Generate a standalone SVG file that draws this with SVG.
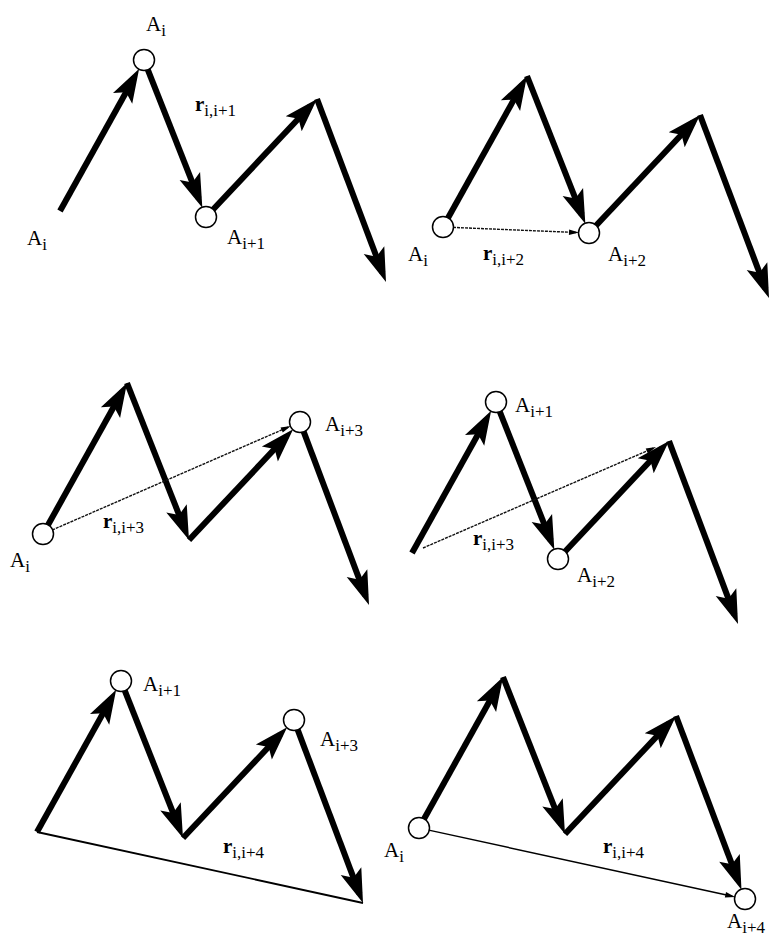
<svg xmlns="http://www.w3.org/2000/svg" width="779" height="939" viewBox="0 0 779 939">
<style>
.thick{stroke:#000;stroke-width:6;fill:none;marker-end:url(#ah)}
.thin{stroke:#111;stroke-width:1.4;fill:none;stroke-dasharray:3 1;marker-end:url(#ta)}
.solid{stroke:#000;stroke-width:1.8;fill:none}
.node{fill:#fff;stroke:#000;stroke-width:1.5}
.lbl{font-family:"Liberation Serif","Times New Roman",serif;font-size:21px;fill:#000}
.sub{font-size:17px}
.r{font-weight:bold}
</style>
<defs>
<marker id="ah" viewBox="-26 -13 38 26" refX="0" refY="0" markerWidth="38" markerHeight="26" markerUnits="userSpaceOnUse" orient="auto">
<path d="M10,0 L-24,-11 L-17,0 L-24,11 Z" fill="#000"/>
</marker>
<marker id="ta" viewBox="-8 -4 12 8" refX="0" refY="0" markerWidth="12" markerHeight="8" markerUnits="userSpaceOnUse" orient="auto">
<path d="M3,0 L-7,-2.8 L-7,2.8 Z" fill="#000"/>
</marker>
</defs>
<rect width="779" height="939" fill="#fff"/>

<!-- Panel 1 -->
<g id="panel1">
<g id="p1-connectors" transform="translate(60,211)">
<line class="thick" x1="0" y1="0" x2="74.28" y2="-133.52"/>
<line class="thick" x1="87.67" y1="-141.7" x2="138.66" y2="-12.6"/>
<line class="thick" x1="152.85" y1="-1.28" x2="250.15" y2="-104.72"/>
<line class="thick" x1="257" y1="-112" x2="322.47" y2="61.64"/>
</g>
<g id="p1-start"><text class="lbl" x="27" y="245">A<tspan class="sub" dy="5">i</tspan></text></g>
<g id="p1-Ai"><circle class="node" cx="144" cy="60" r="10.5"/><text class="lbl" x="146" y="31">A<tspan class="sub" dy="5">i</tspan></text></g>
<g id="p1-Ai1"><circle class="node" cx="206" cy="217" r="10.5"/><text class="lbl" x="227" y="244">A<tspan class="sub" dy="5">i+1</tspan></text></g>
<g id="p1-r"><text class="lbl" x="195" y="111"><tspan class="r">r</tspan><tspan class="sub" dy="5">i,i+1</tspan></text></g>
</g>

<!-- Panel 2 -->
<g id="panel2">
<g id="p2-connectors" transform="translate(443,227)">
<line class="thick" x1="4.86" y1="-8.74" x2="79.14" y2="-142.26"/>
<line class="thick" x1="84" y1="-151" x2="138.66" y2="-12.6"/>
<line class="thick" x1="152.85" y1="-1.28" x2="250.15" y2="-104.72"/>
<line class="thick" x1="257" y1="-112" x2="322.47" y2="61.64"/>
<line class="thin" x1="10" y1="0.4" x2="133" y2="5.48"/>
</g>
<g id="p2-Ai"><circle class="node" cx="443" cy="227" r="10.5"/><text class="lbl" x="408" y="261">A<tspan class="sub" dy="5">i</tspan></text></g>
<g id="p2-Ai2"><circle class="node" cx="589" cy="233" r="10.5"/><text class="lbl" x="608" y="261">A<tspan class="sub" dy="5">i+2</tspan></text></g>
<g id="p2-r"><text class="lbl" x="483" y="260"><tspan class="r">r</tspan><tspan class="sub" dy="5">i,i+2</tspan></text></g>
</g>

<!-- Panel 3 -->
<g id="panel3">
<g id="p3-connectors" transform="translate(43,534)">
<line class="thick" x1="4.86" y1="-8.74" x2="79.14" y2="-142.26"/>
<line class="thick" x1="84" y1="-151" x2="142.33" y2="-3.3"/>
<line class="thick" x1="146" y1="6" x2="243.3" y2="-97.44"/>
<line class="thick" x1="260.53" y1="-102.64" x2="322.47" y2="61.64"/>
<line class="thin" x1="9.17" y1="-4" x2="245.08" y2="-106.8"/>
</g>
<g id="p3-Ai"><circle class="node" cx="43" cy="534" r="10.5"/><text class="lbl" x="10" y="567">A<tspan class="sub" dy="5">i</tspan></text></g>
<g id="p3-Ai3"><circle class="node" cx="300" cy="422" r="10.5"/><text class="lbl" x="325" y="431">A<tspan class="sub" dy="5">i+3</tspan></text></g>
<g id="p3-r"><text class="lbl" x="103" y="528"><tspan class="r">r</tspan><tspan class="sub" dy="5">i,i+3</tspan></text></g>
</g>

<!-- Panel 4 -->
<g id="panel4">
<g id="p4-connectors" transform="translate(412,553)">
<line class="thick" x1="0" y1="0" x2="74.28" y2="-133.52"/>
<line class="thick" x1="87.67" y1="-141.7" x2="138.66" y2="-12.6"/>
<line class="thick" x1="152.85" y1="-1.28" x2="250.15" y2="-104.72"/>
<line class="thick" x1="257" y1="-112" x2="322.47" y2="61.64"/>
<line class="thin" x1="11" y1="-5" x2="241.25" y2="-104.8"/>
</g>
<g id="p4-Ai1"><circle class="node" cx="496" cy="402" r="10.5"/><text class="lbl" x="515" y="412">A<tspan class="sub" dy="5">i+1</tspan></text></g>
<g id="p4-Ai2"><circle class="node" cx="558" cy="559" r="10.5"/><text class="lbl" x="577" y="582">A<tspan class="sub" dy="5">i+2</tspan></text></g>
<g id="p4-r"><text class="lbl" x="473" y="545"><tspan class="r">r</tspan><tspan class="sub" dy="5">i,i+3</tspan></text></g>
</g>

<!-- Panel 5 -->
<g id="panel5">
<g id="p5-connectors" transform="translate(37,832)">
<line class="solid" x1="0" y1="0" x2="326" y2="71"/>
<line class="thick" x1="0" y1="0" x2="74.28" y2="-133.52"/>
<line class="thick" x1="87.67" y1="-141.7" x2="142.33" y2="-3.3"/>
<line class="thick" x1="146" y1="6" x2="243.3" y2="-97.44"/>
<line class="thick" x1="260.53" y1="-102.64" x2="322.47" y2="61.64"/>
</g>
<g id="p5-Ai1"><circle class="node" cx="121" cy="681" r="10.5"/><text class="lbl" x="143" y="691">A<tspan class="sub" dy="5">i+1</tspan></text></g>
<g id="p5-Ai3"><circle class="node" cx="294" cy="720" r="10.5"/><text class="lbl" x="320" y="746">A<tspan class="sub" dy="5">i+3</tspan></text></g>
<g id="p5-r"><text class="lbl" x="223" y="853"><tspan class="r">r</tspan><tspan class="sub" dy="5">i,i+4</tspan></text></g>
</g>

<!-- Panel 6 -->
<g id="panel6">
<g id="p6-connectors" transform="translate(419,828)">
<line class="thick" x1="4.86" y1="-8.74" x2="79.14" y2="-142.26"/>
<line class="thick" x1="84" y1="-151" x2="142.33" y2="-3.3"/>
<line class="thick" x1="146" y1="6" x2="250.15" y2="-104.72"/>
<line class="thick" x1="257" y1="-112" x2="318.94" y2="52.28"/>
<line class="solid" x1="9.77" y1="2.13" x2="313.27" y2="68.26" style="marker-end:url(#ta);stroke-width:1.5"/>
</g>
<g id="p6-Ai"><circle class="node" cx="419" cy="828" r="10.5"/><text class="lbl" x="384" y="857">A<tspan class="sub" dy="5">i</tspan></text></g>
<g id="p6-Ai4"><circle class="node" cx="745" cy="899" r="10.5"/><text class="lbl" x="727" y="928">A<tspan class="sub" dy="5">i+4</tspan></text></g>
<g id="p6-r"><text class="lbl" x="603" y="853"><tspan class="r">r</tspan><tspan class="sub" dy="5">i,i+4</tspan></text></g>
</g>
</svg>
